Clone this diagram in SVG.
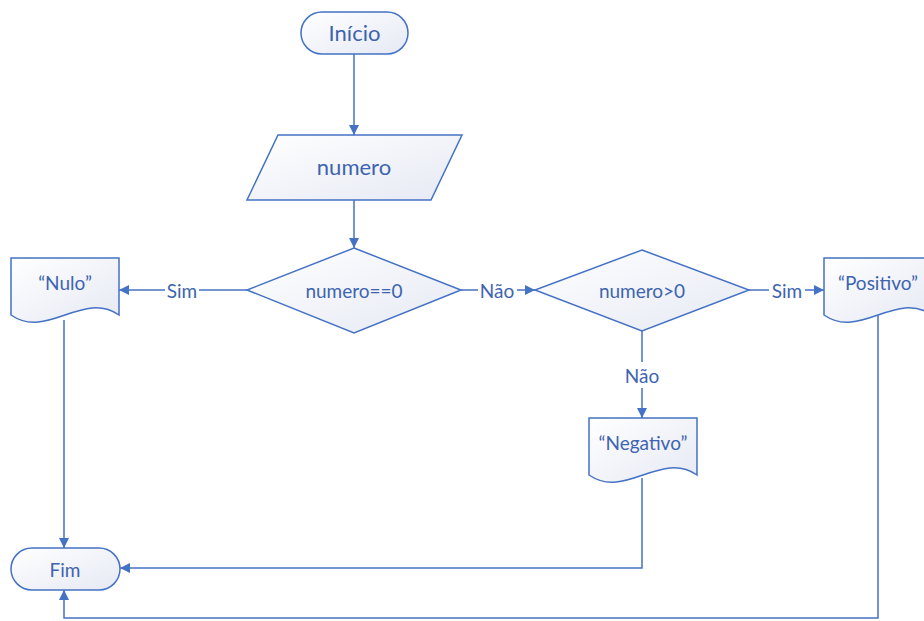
<svg xmlns="http://www.w3.org/2000/svg" width="924" height="621" viewBox="0 0 924 621">
<defs>
<linearGradient id="fill" x1="0" y1="0" x2="1" y2="1">
<stop offset="0" stop-color="#ffffff"/>
<stop offset="1" stop-color="#e6e9f4"/>
</linearGradient>
<marker id="arr" viewBox="0 0 10 10" refX="10" refY="5" markerWidth="10" markerHeight="10" markerUnits="userSpaceOnUse" orient="auto">
<path d="M0,0 L10,5 L0,10 Z" fill="#4472C4"/>
</marker>
</defs>
<style>
.shape{fill:url(#fill);stroke:#4472C4;stroke-width:1.5}
.conn{fill:none;stroke:#4472C4;stroke-width:1.5}
.t{font-family:Lato,"Liberation Sans",sans-serif;fill:#3d64b0;text-anchor:middle;dominant-baseline:central}
.big{font-size:22px}
.mid{font-size:19px}
.lbl{font-size:19px}
.bg{fill:#ffffff}
</style>
<rect width="924" height="621" fill="#ffffff"/>
<g id="connectors">
<path class="conn" d="M354,54 V135" marker-end="url(#arr)"/>
<path class="conn" d="M354,200 V248" marker-end="url(#arr)"/>
<path class="conn" d="M247,290 H119" marker-end="url(#arr)"/>
<path class="conn" d="M461,290 H535" marker-end="url(#arr)"/>
<path class="conn" d="M749,290 H824" marker-end="url(#arr)"/>
<path class="conn" d="M642,331 V418" marker-end="url(#arr)"/>
<path class="conn" d="M64,320 V548" marker-end="url(#arr)"/>
<path class="conn" d="M642,478 V568 H120" marker-end="url(#arr)"/>
<path class="conn" d="M878,311 V618 H64 V590" marker-end="url(#arr)"/>
<rect class="bg" x="165" y="280" width="34" height="22"/>
<text class="t lbl" x="182" y="290">Sim</text>
<rect class="bg" x="478" y="280" width="39" height="22"/>
<text class="t lbl" x="497" y="290">Não</text>
<rect class="bg" x="769" y="280" width="36" height="22"/>
<text class="t lbl" x="787" y="290">Sim</text>
<rect class="bg" x="622" y="362" width="40" height="26"/>
<text class="t lbl" x="642" y="375">Não</text>
</g>
<g id="inicio">
<rect class="shape" x="301" y="12" width="107" height="42" rx="21" ry="21"/>
<text class="t big" x="354.5" y="32">Início</text>
</g>
<g id="numero">
<polygon class="shape" points="278,135 462,135 431,200 247,200"/>
<text class="t big" x="354" y="166">numero</text>
</g>
<g id="dec1">
<polygon class="shape" points="354,248 461,290 354,333 247,290"/>
<text class="t mid" x="354" y="290">numero==0</text>
</g>
<g id="dec2">
<polygon class="shape" points="642,250 749,290 642,331 535,290"/>
<text class="t mid" x="642" y="290">numero&gt;0</text>
</g>
<g id="nulo">
<path class="shape" d="M11,258 H119 V315 C83,290 47,340 11,315 Z"/>
<text class="t mid" x="65" y="282">“Nulo”</text>
</g>
<g id="positivo">
<path class="shape" d="M824,258 H932 V315 C896,290 860,340 824,315 Z"/>
<text class="t mid" x="878" y="282">“Positivo”</text>
</g>
<g id="negativo">
<path class="shape" d="M589,418 H697 V475 C661,450 625,500 589,475 Z"/>
<text class="t mid" x="643" y="442">“Negativo”</text>
</g>
<g id="fim">
<rect class="shape" x="11" y="548" width="109" height="42" rx="21" ry="21"/>
<text class="t mid" x="65" y="569">Fim</text>
</g>
</svg>
